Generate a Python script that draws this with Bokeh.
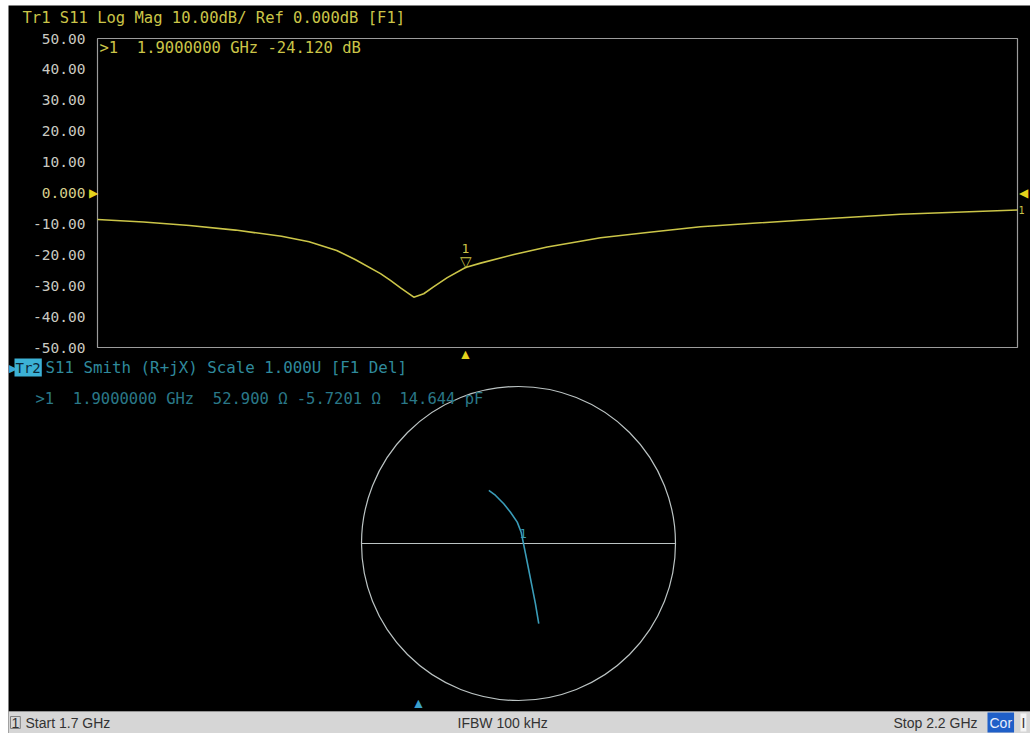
from bokeh.plotting import figure
from bokeh.models import Label, Range1d, BoxAnnotation
from bokeh.embed import file_html
from bokeh.resources import INLINE

# ---- data: Tr1 S11 Log Mag ----
freq_ghz = [1.700, 1.725, 1.750, 1.775, 1.800, 1.815, 1.830, 1.840, 1.8538, 1.8592,
            1.8647, 1.8719, 1.8773, 1.8828, 1.8901, 1.900, 1.9082, 1.9263, 1.9444,
            1.9625, 1.9734, 2.000, 2.0277, 2.0821, 2.1364, 2.200]
s11_db = [-8.6, -9.4, -10.5, -12.0, -14.0, -15.8, -18.6, -21.5, -26.1, -28.3,
          -30.7, -33.7, -32.6, -30.3, -27.4, -24.12, -22.7, -19.9, -17.5,
          -15.6, -14.5, -12.7, -10.9, -8.8, -6.9, -5.5]
y_ticks = [50, 40, 30, 20, 10, 0, -10, -20, -30, -40, -50]
y_tick_labels = ["50.00", "40.00", "30.00", "20.00", "10.00", "0.000",
                 "-10.00", "-20.00", "-30.00", "-40.00", "-50.00"]
marker_freq = [1.9]
marker_db = [-24.12]
ref_level_db = 0.0
start_ghz = 1.7
stop_ghz = 2.2
y_top, y_bottom = 50.0, -50.0

# ---- data: Tr2 S11 Smith (reflection coefficient re / im) ----
smith_re = [-0.189, -0.146, -0.094, -0.051, -0.008, 0.017, 0.030, 0.045, 0.066,
            0.087, 0.108, 0.129]
smith_im = [0.338, 0.306, 0.253, 0.199, 0.136, 0.072, 0.008, -0.066, -0.172,
            -0.278, -0.384, -0.511]
smith_marker_re = [0.029]
smith_marker_im = [0.022]

# ---- layout (page pixels) ----
W, H = 1030, 733
ML, MT = 8, 5                      # white scan margins
PX0, PX1, PY0, PY1 = 97, 1017, 38, 347   # Tr1 graticule box
CX, CY, R = 518, 543, 157          # Smith chart circle

gpp = (stop_ghz - start_ghz) / (PX1 - PX0)
dpp = (y_top - y_bottom) / (PY1 - PY0)
x_range = Range1d(start_ghz - (PX0 - ML) * gpp, stop_ghz + (W - PX1) * gpp)
y_range = Range1d(y_bottom - (H - PY1) * dpp, y_top + (PY0 - MT) * dpp)
gx = Range1d((ML - CX) / R, (W - CX) / R)
gy = Range1d(-(H - CY) / R, (CY - MT) / R)

MONO = "DejaVu Sans Mono"
SANS = "Liberation Sans"
YEL = "#cbc548"
TRI_YEL = "#e4d21c"
TEAL = "#3a9cb8"


def sx(px):
    return px - ML


def sy(py):
    return H - py


p = figure(width=W, height=H, x_range=x_range, y_range=y_range,
           output_backend="svg", toolbar_location=None, title=None,
           x_axis_location=None, y_axis_location=None,
           min_border_left=ML, min_border_top=MT, min_border_right=0, min_border_bottom=0)
p.extra_x_ranges = {"gx": gx}
p.extra_y_ranges = {"gy": gy}
p.background_fill_color = "black"
p.border_fill_color = "white"
p.outline_line_color = None
p.grid.visible = False

# ---------------- Tr1 log mag ----------------
p.quad(left=[start_ghz], right=[stop_ghz], bottom=[y_bottom], top=[y_top],
       fill_color=None, line_color="#9c9c9c", line_width=1.2)
tick_colors = ["#d6cf8c" if t == 0 else "#cacac2" for t in y_ticks]
p.text(x=[start_ghz] * len(y_ticks), y=y_ticks, text=y_tick_labels,
       text_color=tick_colors, x_offset=-12, text_align="right", text_baseline="middle",
       text_font={"value": MONO}, text_font_size="14.5px")
p.line(freq_ghz, s11_db, line_color=YEL, line_width=1.6)
p.text(x=marker_freq, y=marker_db, text=["\u25bd"], text_color=YEL, y_offset=2,
       text_font_size="15px", text_align="center", text_baseline="bottom")
p.text(x=marker_freq, y=marker_db, text=["1"], text_color=YEL, y_offset=-15,
       text_font_size="13px", text_font={"value": MONO}, text_align="center",
       text_baseline="bottom")
p.text(x=[start_ghz], y=[ref_level_db], text=["\u25b6"], text_color=TRI_YEL, x_offset=-4,
       text_font_size="12px", text_align="center", text_baseline="middle")
p.text(x=[stop_ghz], y=[ref_level_db], text=["\u25c0"], text_color=TRI_YEL, x_offset=6,
       text_font_size="12px", text_align="center", text_baseline="middle")
p.text(x=marker_freq, y=[y_bottom], text=["\u25b2"], text_color=TRI_YEL, y_offset=6,
       text_font_size="14px", text_align="center", text_baseline="middle")
p.text(x=[stop_ghz], y=[s11_db[-1]], text=["1"], text_color=YEL, x_offset=1,
       text_font_size="10px", text_font={"value": MONO}, text_align="left",
       text_baseline="middle")

p.add_layout(Label(x=sx(22), y=sy(17), x_units="screen", y_units="screen",
                   text="Tr1 S11 Log Mag 10.00dB/ Ref 0.000dB [F1]",
                   text_font=MONO, text_font_size="15.5px", text_color=YEL,
                   text_baseline="middle"))
p.add_layout(Label(x=sx(99), y=sy(47), x_units="screen", y_units="screen",
                   text=">1\u00a0\u00a01.9000000 GHz -24.120 dB",
                   text_font=MONO, text_font_size="15.5px", text_color=YEL,
                   text_baseline="middle"))

# ---------------- Tr2 smith ----------------
p.circle(x=[0], y=[0], radius=1, fill_color=None, line_color="#bcc4c4", line_width=1.2,
         x_range_name="gx", y_range_name="gy")
p.segment(x0=[-1], y0=[0], x1=[1], y1=[0], line_color="#bcc4c4", line_width=1.2,
          x_range_name="gx", y_range_name="gy")
p.line(smith_re, smith_im, line_color=TEAL, line_width=1.6,
       x_range_name="gx", y_range_name="gy")
p.text(x=smith_marker_re, y=smith_marker_im, text=["1"], text_color=TEAL, y_offset=-2,
       text_font_size="12px", text_font={"value": MONO}, text_align="center",
       text_baseline="bottom", x_range_name="gx", y_range_name="gy")

p.add_layout(Label(x=sx(8), y=sy(367), x_units="screen", y_units="screen", text="\u25b6",
                   text_font_size="11px", text_color="#3aa8d8", text_baseline="middle"))
p.add_layout(Label(x=sx(14), y=sy(367), x_units="screen", y_units="screen",
                   text="Tr2", text_font=MONO, text_font_size="14px",
                   text_color="#0c2838", background_fill_color="#3cb2d6",
                   padding=1, text_baseline="middle"))
p.add_layout(Label(x=sx(45), y=sy(367), x_units="screen", y_units="screen",
                   text="S11 Smith (R+jX) Scale 1.000U [F1 Del]",
                   text_font=MONO, text_font_size="15.8px", text_color="#2f8a9c",
                   text_baseline="middle"))
p.add_layout(Label(x=sx(35), y=sy(398), x_units="screen", y_units="screen",
                   text=">1\u00a0\u00a01.9000000 GHz\u00a0\u00a052.900 \u03a9 -5.7201 \u03a9\u00a0\u00a014.644 pF",
                   text_font=MONO, text_font_size="15.5px", text_color="#2a7888",
                   text_baseline="middle"))
p.add_layout(Label(x=sx(418), y=sy(702), x_units="screen", y_units="screen", text="\u25b2",
                   text_font_size="14px", text_color="#3aa0cc",
                   text_align="center", text_baseline="middle"))

# ---------------- status bar ----------------
p.add_layout(BoxAnnotation(left=0, right=W - ML, bottom=0, top=sy(711),
                           left_units="screen", right_units="screen",
                           bottom_units="screen", top_units="screen",
                           fill_color="#d6d6d6", fill_alpha=1.0,
                           line_color="#f0f0f0", line_width=1))
for px_, txt in [(25, "Start 1.7 GHz"), (457, "IFBW 100 kHz"), (893, "Stop 2.2 GHz")]:
    p.add_layout(Label(x=sx(px_), y=sy(722), x_units="screen", y_units="screen", text=txt,
                       text_font=SANS, text_font_size="14px", text_color="#333333",
                       text_baseline="middle"))
p.add_layout(Label(x=sx(10), y=sy(722), x_units="screen", y_units="screen", text="1",
                   text_font=SANS, text_font_size="14px", text_color="#333333",
                   border_line_color="#808080", padding=1, text_baseline="middle"))
p.add_layout(Label(x=sx(987), y=sy(722), x_units="screen", y_units="screen", text="Cor",
                   text_font=SANS, text_font_size="14px", text_color="#e8eefc",
                   background_fill_color="#1f5fc8", padding=2, text_baseline="middle"))
p.add_layout(Label(x=sx(1020), y=sy(722), x_units="screen", y_units="screen", text="I",
                   text_font=SANS, text_font_size="14px", text_color="#333333",
                   background_fill_color="#f4f4f4", padding=1, text_baseline="middle"))

open("out.html", "w").write(file_html(p, INLINE))
